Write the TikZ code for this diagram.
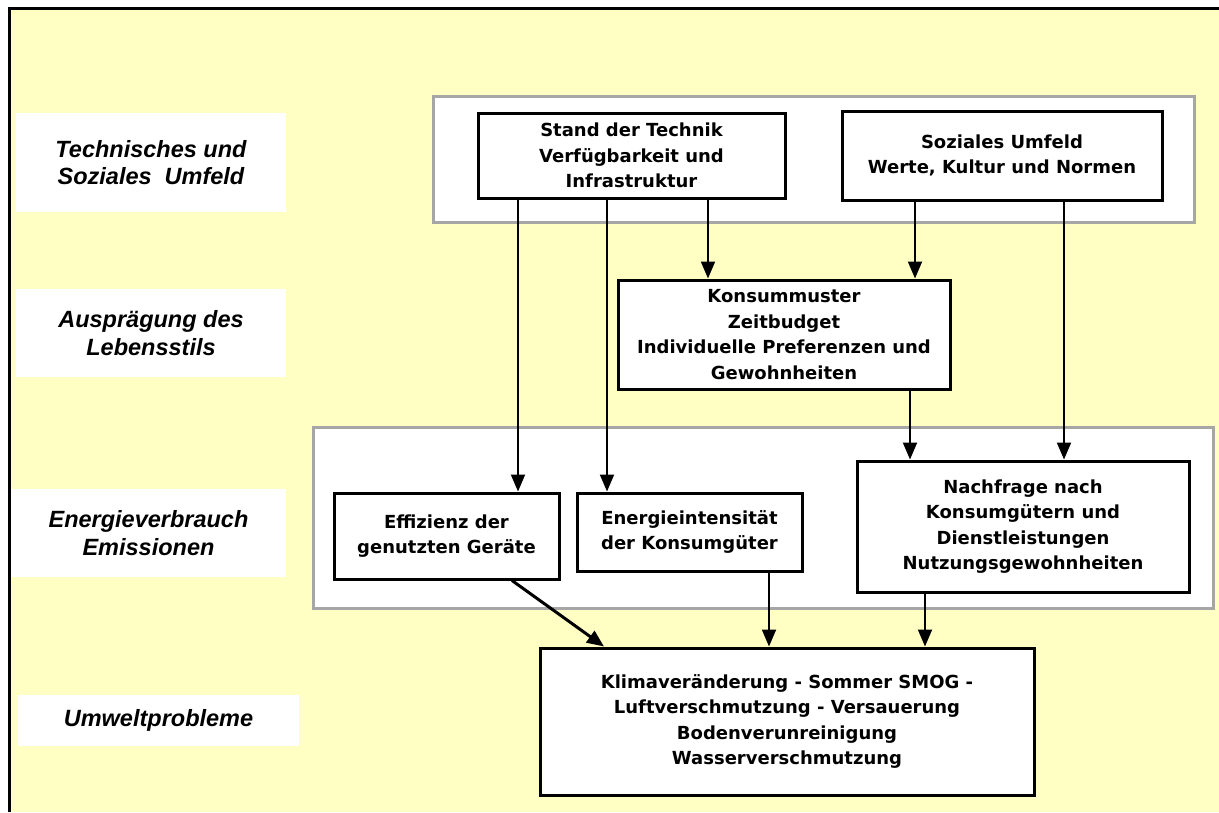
\documentclass[tikz,border=0pt]{standalone}
\usepackage{fontspec}
\usetikzlibrary{arrows.meta}
\newfontfamily\boxfont{DejaVu Sans}
\newfontfamily\lblfont{Liberation Sans}
\definecolor{paper}{HTML}{FFFFC4}
\definecolor{groupgrey}{HTML}{A6A6A6}

\begin{document}
\begin{tikzpicture}[x=1pt,y=-1pt,
  stepbox/.style={draw=black, line width=3pt, fill=white, inner sep=0pt,
    align=center, font=\boxfont\bfseries\fontsize{18}{25.5}\selectfont},
  levelbox/.style={fill=white, inner sep=0pt, align=center,
    font=\lblfont\bfseries\itshape\fontsize{23.5}{27.5}\selectfont},
  groupbox/.style={draw=groupgrey, line width=3pt, fill=white, inner sep=0pt},
  flow/.style={line width=2pt, -{Triangle[length=17pt,width=14pt]}},
]
\useasboundingbox (0,0) rectangle (1219,812);

% sheet and its frame
\fill[paper] (9,8) rectangle (1219,812);
\draw[line width=3pt] (9.5,812) -- (9.5,8.5) -- (1219,8.5);

% level labels on the left
\node[levelbox, minimum width=270pt, minimum height=99pt] (lvl1) at (151,162.5)
  {Technisches und\\Soziales\ \ Umfeld};
\node[levelbox, minimum width=270pt, minimum height=88pt] (lvl2) at (151,333)
  {Ausprägung des\\Lebensstils};
\node[levelbox, minimum width=275pt, minimum height=88pt] (lvl3) at (148.5,533)
  {Energieverbrauch\\Emissionen};
\node[levelbox, minimum width=281pt, minimum height=51pt] (lvl4) at (158.5,720.5)
  {Umweltprobleme};

% grouping frames
\node[groupbox, minimum width=761pt, minimum height=126pt] (grpTop) at (813.5,159) {};
\node[groupbox, minimum width=900pt, minimum height=181pt] (grpMid) at (763,517.5) {};

% boxes
\node[stepbox, minimum width=307pt, minimum height=85pt] (tech) at (631.5,155.5)
  {Stand der Technik\\Verfügbarkeit und\\Infrastruktur};
\node[stepbox, minimum width=320pt, minimum height=89pt] (sozial) at (1002,155.5)
  {Soziales Umfeld\\Werte, Kultur und Normen};
\node[stepbox, minimum width=332pt, minimum height=109pt] (konsum) at (784,334.5)
  {Konsummuster\\Zeitbudget\\Individuelle Preferenzen und\\Gewohnheiten};
\node[stepbox, minimum width=225pt, minimum height=86pt] (eff) at (446.5,536)
  {Effizienz der\\genutzten Geräte};
\node[stepbox, minimum width=225pt, minimum height=78pt] (intens) at (689.5,532)
  {Energieintensität\\der Konsumgüter};
\node[stepbox, minimum width=332pt, minimum height=131pt] (nachfrage) at (1023,526.5)
  {Nachfrage nach\\Konsumgütern und\\Dienstleistungen\\Nutzungsgewohnheiten};
\node[stepbox, minimum width=494pt, minimum height=147pt] (klima) at (787,721.5)
  {Klimaveränderung - Sommer SMOG -\\Luftverschmutzung - Versauerung\\Bodenverunreinigung\\Wasserverschmutzung};

% connector columns
\coordinate (c1) at (518,0);
\coordinate (c2) at (607,0);
\coordinate (c3) at (708,0);
\coordinate (c4) at (915,0);
\coordinate (c5) at (1064,0);
\coordinate (c6) at (910,0);
\coordinate (c7) at (769,0);
\coordinate (c8) at (925,0);
\coordinate (d1) at (512,0);
\coordinate (d2) at (604,0);

% connectors
\draw[flow] (tech.south -| c1) -- (eff.north -| c1);
\draw[flow] (tech.south -| c2) -- (intens.north -| c2);
\draw[flow] (tech.south -| c3) -- (konsum.north -| c3);
\draw[flow] (sozial.south -| c4) -- (konsum.north -| c4);
\draw[flow] (sozial.south -| c5) -- (nachfrage.north -| c5);
\draw[flow] (konsum.south -| c6) -- (nachfrage.north -| c6);
\draw[flow, line width=3pt] (eff.south -| d1) -- (klima.north -| d2);
\draw[flow] (intens.south -| c7) -- (klima.north -| c7);
\draw[flow] (nachfrage.south -| c8) -- (klima.north -| c8);
\end{tikzpicture}
\end{document}
